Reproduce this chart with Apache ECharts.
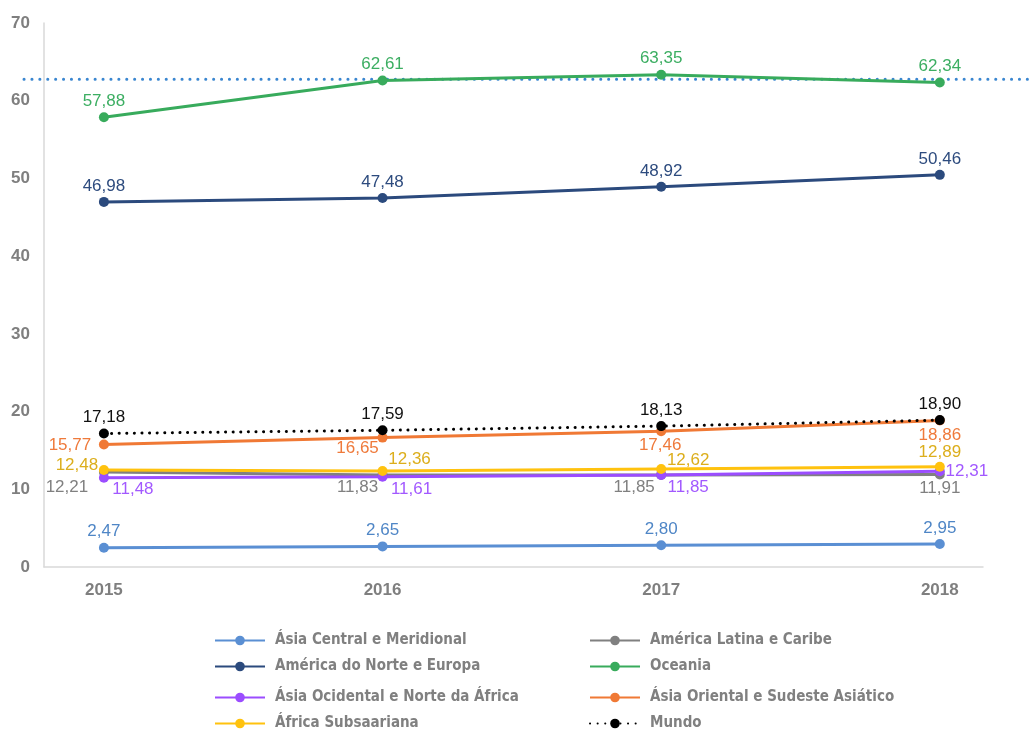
<!DOCTYPE html>
<html><head><meta charset="utf-8">
<script src="https://cdn.jsdelivr.net/npm/echarts@6/dist/echarts.min.js"></script>
<style>html,body{margin:0;padding:0;background:#fff}#c{width:1032px;height:731px}</style>
</head><body><div id="c"></div>
<script>
const years = [2015, 2016, 2017, 2018];
const yTicks = [0, 10, 20, 30, 40, 50, 60, 70];
const names = ['Ásia Central e Meridional','América Latina e Caribe','América do Norte e Europa','Oceania','Ásia Ocidental e Norte da África','Ásia Oriental e Sudeste Asiático','África Subsaariana','Mundo'];
const asiaCentral = [2.47, 2.65, 2.80, 2.95];
const americaLatina = [12.21, 11.83, 11.85, 11.91];
const americaNorte = [46.98, 47.48, 48.92, 50.46];
const oceania = [57.88, 62.61, 63.35, 62.34];
const asiaOcidental = [11.48, 11.61, 11.85, 12.31];
const asiaOriental = [15.77, 16.65, 17.46, 18.86];
const africaSub = [12.48, 12.36, 12.62, 12.89];
const mundo = [17.18, 17.59, 18.13, 18.90];
const refLine = 62.75;

const values = [asiaCentral, americaLatina, americaNorte, oceania, asiaOcidental, asiaOriental, africaSub, mundo];
const lineColors = ['#5a8fd3','#808080','#2b4a7d','#38ab5c','#9b4dff','#f07935','#ffc20e','#000000'];
const labelColors = ['#4f86c6','#808080','#2d4b7e','#3cae62','#a259ff','#ef7a3b','#dcae1c','#111111'];
const topOff = [[0,-16],[0,-16],[0,-16],[0,-16]];
const labelOffsets = [
  topOff,
  [[-37,15],[-25,12],[-27,12],[0,14]],
  topOff,
  topOff,
  [[29,12],[29,13],[27,12],[27,0]],
  [[-34,1],[-25,11],[-1,14],[0,15]],
  [[-27,-5],[27,-12],[27,-9],[0,-15]],
  topOff
];
const legendPos = [[214,633],[589,633],[214,659],[589,659],[214,690],[589,690],[214,716],[589,716]];

const fmt = v => v.toFixed(2).replace('.', ',');
const dots = [0.1, 7.5];

const series = values.map((vals, si) => ({
  name: names[si], type: 'line',
  data: vals.map((v, i) => ({
    value: [years[i], v],
    label: {offset: labelOffsets[si][i]}
  })),
  symbol: 'circle', symbolSize: 10,
  itemStyle: {color: lineColors[si]},
  lineStyle: si === 7
    ? {color: '#000', width: 3, type: dots, cap: 'round'}
    : {color: lineColors[si], width: 3},
  label: {show: true, position: 'inside', align: 'center', verticalAlign: 'middle',
    color: labelColors[si], fontSize: 17, fontFamily: 'Liberation Sans, Arial, sans-serif',
    formatter: p => fmt(p.value[1])},
  z: si === 7 ? 5 : 3,
  animation: false
}));

const legends = names.map((n, i) => ({
  data: [n], left: legendPos[i][0], top: legendPos[i][1],
  orient: 'horizontal', itemWidth: 50, itemHeight: 12, padding: 0,
  selectedMode: false,
  textStyle: {color: '#808080', fontSize: 15, fontWeight: 'bold', fontFamily: 'Liberation Sans Narrow, DejaVu Sans Condensed, sans-serif', padding: [0,0,0,5]}
}));

const chart = echarts.init(document.getElementById('c'), null, {renderer: 'canvas'});
chart.setOption({
  animation: false,
  backgroundColor: '#fff',
  grid: {left: 44, right: 49, top: 23, bottom: 164, containLabel: false},
  xAxis: {type: 'value', min: 2014.785, max: 2018.155,
    axisLine: {show: true, lineStyle: {color: '#d9d9d9', width: 1.5}},
    axisTick: {show: false}, splitLine: {show: false},
    axisLabel: {customValues: years, color: '#7f7f7f', fontSize: 17, fontWeight: 'bold', margin: 15,
      fontFamily: 'Liberation Sans, Arial, sans-serif', formatter: v => String(v)}},
  yAxis: {type: 'value', min: 0, max: 70, interval: 10,
    axisLine: {show: true, lineStyle: {color: '#d9d9d9', width: 1.5}},
    axisTick: {show: false}, splitLine: {show: false},
    axisLabel: {customValues: yTicks, color: '#7f7f7f', fontSize: 17, fontWeight: 'bold', margin: 14,
      fontFamily: 'Liberation Sans, Arial, sans-serif'}},
  legend: legends,
  series: series
});
const yRef = chart.convertToPixel({yAxisIndex: 0}, refLine);
chart.setOption({graphic: [{type: 'line', shape: {x1: 24, y1: yRef, x2: 1032, y2: yRef},
  style: {stroke: '#3a86d0', lineWidth: 3, lineDash: [0.1, 7.8], lineCap: 'round'}, z: 1, silent: true}]});
</script></body></html>
